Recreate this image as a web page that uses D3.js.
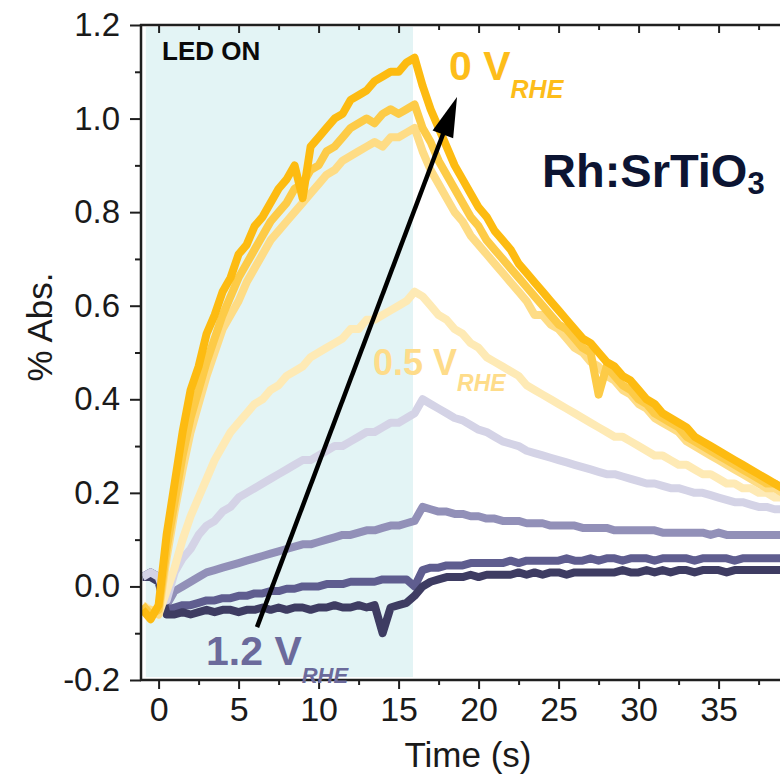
<!DOCTYPE html>
<html><head><meta charset="utf-8">
<script src="https://cdn.jsdelivr.net/npm/d3@7"></script>
<style>
html,body{margin:0;padding:0;background:#fff;}
svg{display:block;font-family:"Liberation Sans",Arial,sans-serif;}
</style></head>
<body><svg id="c" width="780" height="781"></svg>
<script>
// ---- data ----
const time = [-1,-0.5,0,0.5,1,1.5,2,2.5,3,3.5,4,4.5,5,5.5,6,6.5,7,7.5,8,8.5,9,9.5,10,10.5,11,11.5,12,12.5,13,13.5,14,14.5,15,15.5,16,16.5,17,17.5,18,18.5,19,19.5,20,20.5,21,21.5,22,22.5,23,23.5,24,24.5,25,25.5,26,26.5,27,27.5,28,28.5,29,29.5,30,30.5,31,31.5,32,32.5,33,33.5,34,34.5,35,35.5,36,36.5,37,37.5,38,38.5,39];

const s0V   = [-0.05,-0.07,-0.04,0.11,0.22,0.33,0.42,0.47,0.54,0.58,0.63,0.66,0.71,0.73,0.77,0.79,0.82,0.85,0.87,0.90,0.83,0.94,0.96,0.98,1.00,1.01,1.04,1.05,1.06,1.08,1.09,1.10,1.10,1.12,1.13,1.07,1.02,0.98,0.94,0.90,0.87,0.84,0.81,0.79,0.76,0.74,0.72,0.69,0.67,0.65,0.63,0.61,0.59,0.57,0.55,0.53,0.52,0.50,0.48,0.47,0.45,0.44,0.42,0.40,0.39,0.37,0.36,0.35,0.34,0.32,0.31,0.30,0.29,0.28,0.27,0.26,0.25,0.24,0.23,0.22,0.21];
const s02V  = [-0.04,-0.06,-0.05,0.08,0.18,0.28,0.36,0.42,0.48,0.53,0.58,0.62,0.66,0.69,0.72,0.75,0.78,0.80,0.82,0.85,0.86,0.89,0.90,0.93,0.94,0.96,0.98,0.99,1.00,0.99,1.01,1.02,1.01,1.02,1.03,0.98,0.95,0.91,0.88,0.85,0.82,0.79,0.77,0.74,0.72,0.70,0.68,0.66,0.64,0.62,0.60,0.58,0.56,0.55,0.53,0.51,0.50,0.41,0.47,0.45,0.43,0.42,0.40,0.39,0.37,0.36,0.35,0.34,0.32,0.31,0.30,0.29,0.28,0.27,0.26,0.25,0.24,0.23,0.22,0.22,0.21];
const s03V  = [-0.05,-0.05,-0.06,0.06,0.16,0.25,0.33,0.39,0.45,0.50,0.55,0.58,0.61,0.65,0.68,0.71,0.74,0.76,0.78,0.80,0.82,0.84,0.86,0.88,0.89,0.91,0.92,0.93,0.94,0.95,0.94,0.96,0.96,0.97,0.98,0.93,0.89,0.86,0.83,0.80,0.78,0.75,0.73,0.71,0.69,0.67,0.65,0.63,0.61,0.58,0.58,0.56,0.55,0.53,0.51,0.50,0.48,0.47,0.45,0.44,0.42,0.41,0.39,0.38,0.36,0.35,0.34,0.33,0.31,0.30,0.29,0.28,0.27,0.26,0.25,0.24,0.23,0.22,0.21,0.21,0.20];
const s05V  = [-0.04,-0.05,-0.06,-0.01,0.04,0.10,0.15,0.19,0.23,0.27,0.30,0.33,0.35,0.37,0.39,0.40,0.42,0.43,0.45,0.46,0.47,0.49,0.50,0.51,0.52,0.53,0.55,0.55,0.57,0.57,0.58,0.59,0.60,0.61,0.63,0.62,0.60,0.58,0.57,0.55,0.54,0.52,0.51,0.49,0.48,0.47,0.46,0.45,0.43,0.42,0.41,0.40,0.39,0.38,0.37,0.36,0.35,0.34,0.33,0.32,0.32,0.31,0.30,0.29,0.28,0.28,0.27,0.26,0.26,0.25,0.24,0.24,0.23,0.22,0.22,0.21,0.21,0.20,0.20,0.19,0.19];
const s08V  = [0.02,0.03,0.02,-0.03,0.03,0.06,0.08,0.11,0.13,0.14,0.16,0.17,0.19,0.20,0.21,0.22,0.23,0.24,0.25,0.26,0.27,0.27,0.28,0.29,0.30,0.30,0.31,0.32,0.33,0.33,0.34,0.35,0.35,0.36,0.37,0.40,0.39,0.38,0.37,0.36,0.355,0.345,0.335,0.33,0.32,0.31,0.305,0.30,0.29,0.285,0.28,0.275,0.27,0.265,0.26,0.255,0.25,0.245,0.24,0.24,0.235,0.23,0.225,0.22,0.22,0.215,0.21,0.21,0.205,0.20,0.20,0.195,0.19,0.185,0.18,0.18,0.175,0.17,0.17,0.165,0.165];
const s10V  = [0.02,0.03,0.02,-0.04,-0.01,0.00,0.01,0.02,0.03,0.035,0.04,0.045,0.05,0.055,0.06,0.065,0.07,0.075,0.08,0.085,0.09,0.09,0.095,0.10,0.105,0.11,0.11,0.115,0.12,0.12,0.125,0.13,0.13,0.135,0.14,0.17,0.165,0.16,0.16,0.155,0.155,0.15,0.15,0.145,0.145,0.14,0.14,0.14,0.135,0.135,0.135,0.13,0.13,0.13,0.13,0.125,0.125,0.125,0.125,0.12,0.12,0.12,0.12,0.12,0.12,0.115,0.115,0.115,0.115,0.115,0.115,0.11,0.115,0.11,0.11,0.11,0.11,0.11,0.11,0.11,0.11];
const s11V  = [0.02,0.03,0.02,-0.05,-0.045,-0.04,-0.04,-0.035,-0.03,-0.03,-0.025,-0.025,-0.02,-0.02,-0.015,-0.015,-0.01,-0.01,-0.005,-0.005,0.0,0.0,0.0,0.005,0.005,0.005,0.01,0.01,0.01,0.01,0.015,0.015,0.015,0.015,0.0,0.035,0.04,0.04,0.045,0.045,0.045,0.05,0.05,0.05,0.05,0.05,0.055,0.05,0.055,0.055,0.055,0.055,0.055,0.06,0.055,0.055,0.06,0.055,0.06,0.06,0.055,0.06,0.06,0.06,0.055,0.06,0.06,0.06,0.06,0.055,0.06,0.06,0.06,0.06,0.055,0.06,0.06,0.06,0.06,0.06,0.06];
const s12V  = [0.02,0.02,0.01,-0.06,-0.06,-0.055,-0.06,-0.055,-0.05,-0.055,-0.05,-0.05,-0.055,-0.05,-0.05,-0.045,-0.05,-0.045,-0.05,-0.045,-0.045,-0.05,-0.045,-0.045,-0.04,-0.045,-0.045,-0.04,-0.045,-0.04,-0.10,-0.045,-0.04,-0.035,-0.02,0.0,0.01,0.015,0.02,0.02,0.02,0.025,0.02,0.025,0.025,0.025,0.025,0.03,0.025,0.03,0.025,0.03,0.03,0.025,0.03,0.03,0.03,0.03,0.03,0.03,0.035,0.03,0.03,0.035,0.03,0.035,0.03,0.035,0.035,0.03,0.035,0.035,0.035,0.03,0.035,0.035,0.035,0.035,0.035,0.035,0.035];

const seriesNames  = ["1.0 V","1.1 V","1.2 V","0.8 V","0.5 V","0.3 V","0.2 V","0 V"];
const seriesValues = [s10V, s11V, s12V, s08V, s05V, s03V, s02V, s0V];
const seriesColors = ["#9290b8","#5f5d8f","#3e3c62","#d4d3e6","#feeab5","#fedc85","#fdcb47","#fdbb11"];

const yMajorTicks = [-0.2,0,0.2,0.4,0.6,0.8,1.0,1.2];
const yMajorLabels = ["-0.2","0.0","0.2","0.4","0.6","0.8","1.0","1.2"];
const yMinorTicks = [-0.1,0.1,0.3,0.5,0.7,0.9,1.1];
const xMajorTicks = [0,5,10,15,20,25,30,35];
const xMinorTicks = [2.5,7.5,12.5,17.5,22.5,27.5,32.5,37.5];
const ledOn = [-0.8, 15.9];

// ---- layout ----
const svg = d3.select("#c");
const x = d3.scaleLinear().domain([-1.1, 38.9]).range([141, 781]);
const y = d3.scaleLinear().domain([-0.2, 1.2]).range([680, 25]);
const axisColor = "#1f1f1f";

// LED ON shading
svg.append("rect")
  .attr("x", x(ledOn[0])).attr("y", y(1.2) + 2)
  .attr("width", x(ledOn[1]) - x(ledOn[0]))
  .attr("height", y(-0.2) - y(1.2) - 5)
  .attr("fill", "#e3f4f5");

// clip
svg.append("clipPath").attr("id","plot").append("rect")
  .attr("x", 142).attr("y", 26).attr("width", 640).attr("height", 653);

const line = d3.line().x((d,i)=>x(time[i])).y(d=>y(d)).curve(d3.curveLinear);
const g = svg.append("g").attr("clip-path","url(#plot)");
seriesValues.forEach((vals, k) => {
  g.append("path").datum(vals)
    .attr("d", line)
    .attr("fill","none")
    .attr("stroke", seriesColors[k])
    .attr("stroke-width", 8)
    .attr("stroke-linejoin","round");
});

// axes
function styleAxis(sel){
  sel.select(".domain").remove();
  sel.selectAll("line").attr("stroke", axisColor).attr("stroke-width", 2);
  sel.selectAll("text").attr("fill","#1a1a1a").style("font-size","33px")
    .style("font-family",'"Liberation Sans",Arial,sans-serif');
}
const yAx = svg.append("g").attr("transform","translate(141,0)")
  .call(d3.axisLeft(y).tickValues(yMajorTicks).tickSize(11).tickPadding(10)
        .tickFormat((d,i)=>yMajorLabels[i]));
styleAxis(yAx);
const yAxMin = svg.append("g").attr("transform","translate(141,0)")
  .call(d3.axisLeft(y).tickValues(yMinorTicks).tickSize(6).tickFormat(""));
styleAxis(yAxMin);

const xAx = svg.append("g").attr("transform","translate(0,680)")
  .call(d3.axisBottom(x).tickValues(xMajorTicks).tickSize(9).tickPadding(8));
styleAxis(xAx);
xAx.selectAll("text").style("font-size","34px");
const xAxMin = svg.append("g").attr("transform","translate(0,680)")
  .call(d3.axisBottom(x).tickValues(xMinorTicks).tickSize(5).tickFormat(""));
styleAxis(xAxMin);

const tAx = svg.append("g").attr("transform","translate(0,25)")
  .call(d3.axisBottom(x).tickValues(xMajorTicks).tickSize(8).tickFormat(""));
styleAxis(tAx);
const tAxMin = svg.append("g").attr("transform","translate(0,25)")
  .call(d3.axisBottom(x).tickValues(xMinorTicks).tickSize(5).tickFormat(""));
styleAxis(tAxMin);

// frame lines
svg.append("line").attr("x1",141).attr("x2",141).attr("y1",24).attr("y2",681)
  .attr("stroke",axisColor).attr("stroke-width",2.5);
svg.append("line").attr("x1",140).attr("x2",780).attr("y1",680).attr("y2",680)
  .attr("stroke",axisColor).attr("stroke-width",2.5);
svg.append("line").attr("x1",140).attr("x2",780).attr("y1",25).attr("y2",25)
  .attr("stroke",axisColor).attr("stroke-width",2.5);

// axis titles
svg.append("text").attr("x", 468).attr("y", 767).attr("text-anchor","middle")
  .style("font-size","35px").attr("fill","#1a1a1a").text("Time (s)");
svg.append("text").attr("transform","translate(52,327) rotate(-90)")
  .attr("text-anchor","middle").style("font-size","35px").attr("fill","#1a1a1a").text("% Abs.");

// annotations
svg.append("text").attr("x",162).attr("y",60).style("font-size","26px")
  .style("font-weight","bold").attr("fill","#0a0a0a").text("LED ON");

// arrow (1.2 V -> 0 V)
const a0 = [x(6.15), y(-0.087)], a1 = [x(18.65), y(1.046)];
const dx = a1[0]-a0[0], dy = a1[1]-a0[1], L = Math.hypot(dx,dy);
const ux = dx/L, uy = dy/L, nx = -uy, ny = ux;
const hl = 40, hw = 11;
const bx = a1[0]-hl*ux, by = a1[1]-hl*uy;
svg.append("line").attr("x1",a0[0]).attr("y1",a0[1]).attr("x2",bx+4*ux).attr("y2",by+4*uy)
  .attr("stroke","#000").attr("stroke-width",4.5);
svg.append("path").attr("d",`M${a1[0]},${a1[1]}L${bx+hw*nx},${by+hw*ny}L${bx-hw*nx},${by-hw*ny}Z`)
  .attr("fill","#000");

function vLabel(xp, yp, main, size, subSize, color){
  const t = svg.append("text").attr("x",xp).attr("y",yp).attr("fill",color)
    .style("font-weight","bold");
  t.append("tspan").style("font-size",size+"px").text(main);
  t.append("tspan").style("font-size",subSize+"px").style("font-style","italic")
    .attr("dy", Math.round(size*0.45)).text("RHE");
}
vLabel(449, 80, "0 V", 41, 25, "#fdbd1a");
vLabel(373, 375, "0.5 V", 36, 23, "#fedc8a");
vLabel(206, 665, "1.2 V", 41, 22, "#6b6a9b");

const rh = svg.append("text").attr("x",542).attr("y",187).attr("fill","#0c1432")
  .style("font-weight","bold");
rh.append("tspan").style("font-size","47px").text("Rh:SrTiO");
rh.append("tspan").style("font-size","31px").attr("dy",7).text("3");
</script></body></html>
